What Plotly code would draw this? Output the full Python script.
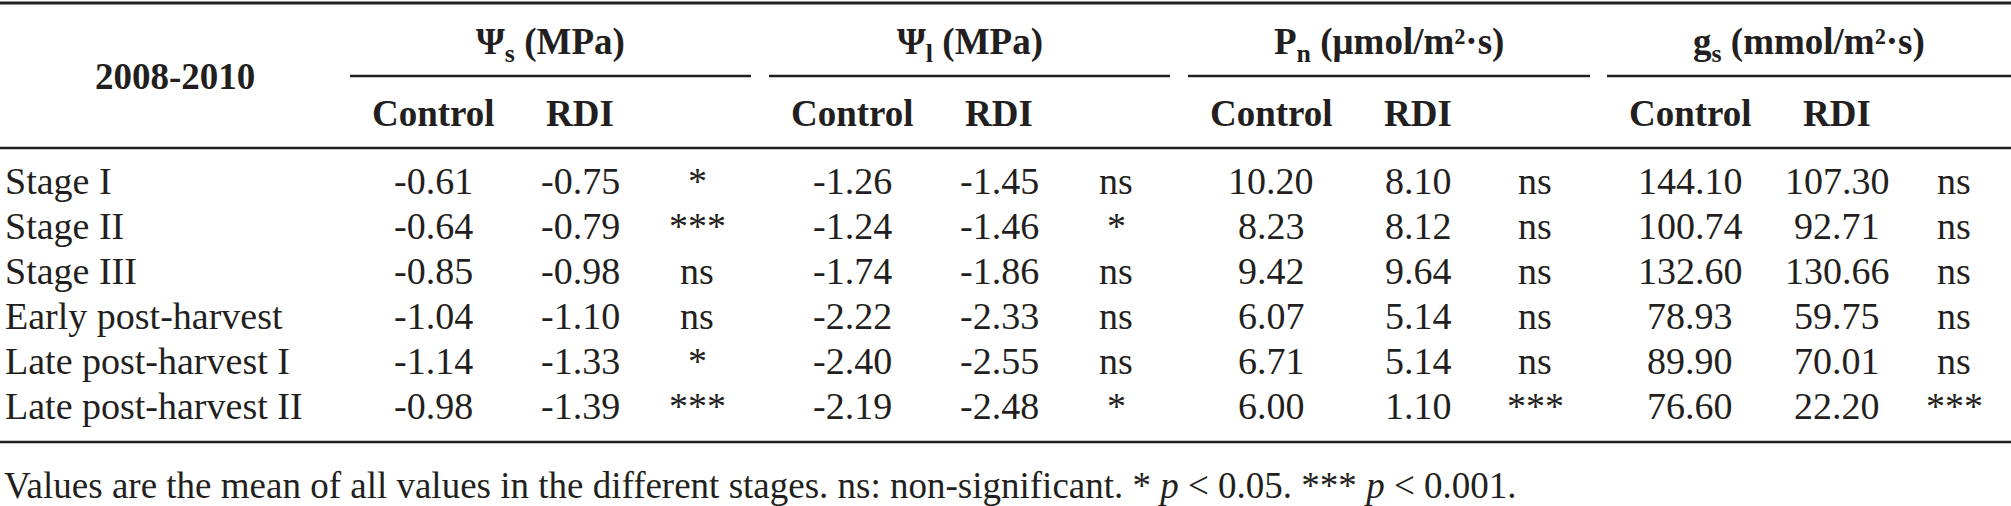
import plotly.graph_objects as go

# table content
stages = [
    "Stage I",
    "Stage II",
    "Stage III",
    "Early post-harvest",
    "Late post-harvest I",
    "Late post-harvest II",
]
group_titles = [
    "Ψ<sub>s</sub> (MPa)",
    "Ψ<sub>l</sub> (MPa)",
    "P<sub>n</sub> (μmol/m²·s)",
    "g<sub>s</sub> (mmol/m²·s)",
]
sub_headers = ["Control", "RDI"]

psi_s_control = [-0.61, -0.64, -0.85, -1.04, -1.14, -0.98]
psi_s_rdi = [-0.75, -0.79, -0.98, -1.10, -1.33, -1.39]
psi_s_sig = ["*", "***", "ns", "ns", "*", "***"]

psi_l_control = [-1.26, -1.24, -1.74, -2.22, -2.40, -2.19]
psi_l_rdi = [-1.45, -1.46, -1.86, -2.33, -2.55, -2.48]
psi_l_sig = ["ns", "*", "ns", "ns", "ns", "*"]

pn_control = [10.20, 8.23, 9.42, 6.07, 6.71, 6.00]
pn_rdi = [8.10, 8.12, 9.64, 5.14, 5.14, 1.10]
pn_sig = ["ns", "ns", "ns", "ns", "ns", "***"]

gs_control = [144.10, 100.74, 132.60, 78.93, 89.90, 76.60]
gs_rdi = [107.30, 92.71, 130.66, 59.75, 70.01, 22.20]
gs_sig = ["ns", "ns", "ns", "ns", "ns", "***"]

footnote = ("Values are the mean of all values in the different stages. "
            "ns: non-significant. * <i>p</i> &lt; 0.05. *** <i>p</i> &lt; 0.001.")

groups = [
    (psi_s_control, psi_s_rdi, psi_s_sig),
    (psi_l_control, psi_l_rdi, psi_l_sig),
    (pn_control, pn_rdi, pn_sig),
    (gs_control, gs_rdi, gs_sig),
]

# layout (pixel units, y grows downward)
W, H = 2011, 506
INK = "#231f20"
FONT = "Liberation Serif"
GROUP_START = [350, 769, 1188, 1607]
GROUP_END = [751, 1170, 1590, 2011]
COL_OFFSETS = [83, 230, 347]  # control, rdi, significance
ROW0, ROW_H = 181, 45

fig = go.Figure()
annotations = []


def add_text(x, y, text, size=38, bold=False, anchor="center"):
    annotations.append(dict(
        x=x, y=y, xref="x", yref="y", text=f"<b>{text}</b>" if bold else text,
        showarrow=False, xanchor=anchor, yanchor="middle",
        font=dict(family=FONT, size=size, color=INK),
    ))


add_text(175, 76, "2008-2010", size=37, bold=True)
for g, title in enumerate(group_titles):
    start, end = GROUP_START[g], GROUP_END[g]
    # subscript makes the box taller below the baseline
    add_text((start + end) / 2, 44, title, size=37, bold=True)
    for k, name in enumerate(sub_headers):
        add_text(start + COL_OFFSETS[k], 113, name, size=37, bold=True)

for i, stage in enumerate(stages):
    y = ROW0 + i * ROW_H
    add_text(3, y, stage, anchor="left")
    for g, (ctrl, rdi, sig) in enumerate(groups):
        x0 = GROUP_START[g]
        add_text(x0 + COL_OFFSETS[0], y, f"{ctrl[i]:.2f}")
        add_text(x0 + COL_OFFSETS[1], y, f"{rdi[i]:.2f}")
        add_text(x0 + COL_OFFSETS[2], y, sig[i])

add_text(2, 485, footnote, size=37, anchor="left")

shapes = []


def rule(x0, x1, y, width=2.5):
    shapes.append(dict(type="line", xref="x", yref="y", x0=x0, x1=x1, y0=y, y1=y,
                       line=dict(color=INK, width=width)))


rule(0, W, 3, 3)
rule(0, W, 148)
rule(0, W, 442)
for start, end in zip(GROUP_START, GROUP_END):
    rule(start, end, 76)

# invisible trace so the axes exist
fig.add_trace(go.Scatter(x=[0, W], y=[0, H], mode="markers",
                         marker=dict(opacity=0), hoverinfo="skip", showlegend=False))

fig.update_layout(
    width=W, height=H,
    margin=dict(l=0, r=0, t=0, b=0),
    paper_bgcolor="white", plot_bgcolor="white",
    annotations=annotations, shapes=shapes,
    showlegend=False,
)
fig.update_xaxes(range=[0, W], visible=False, fixedrange=True)
fig.update_yaxes(range=[H, 0], visible=False, fixedrange=True)

# drop the default page margin so the figure sits at the window corner
fig.write_html("out.html", config={"displayModeBar": False},
               post_script="document.body.style.margin = '0';")
